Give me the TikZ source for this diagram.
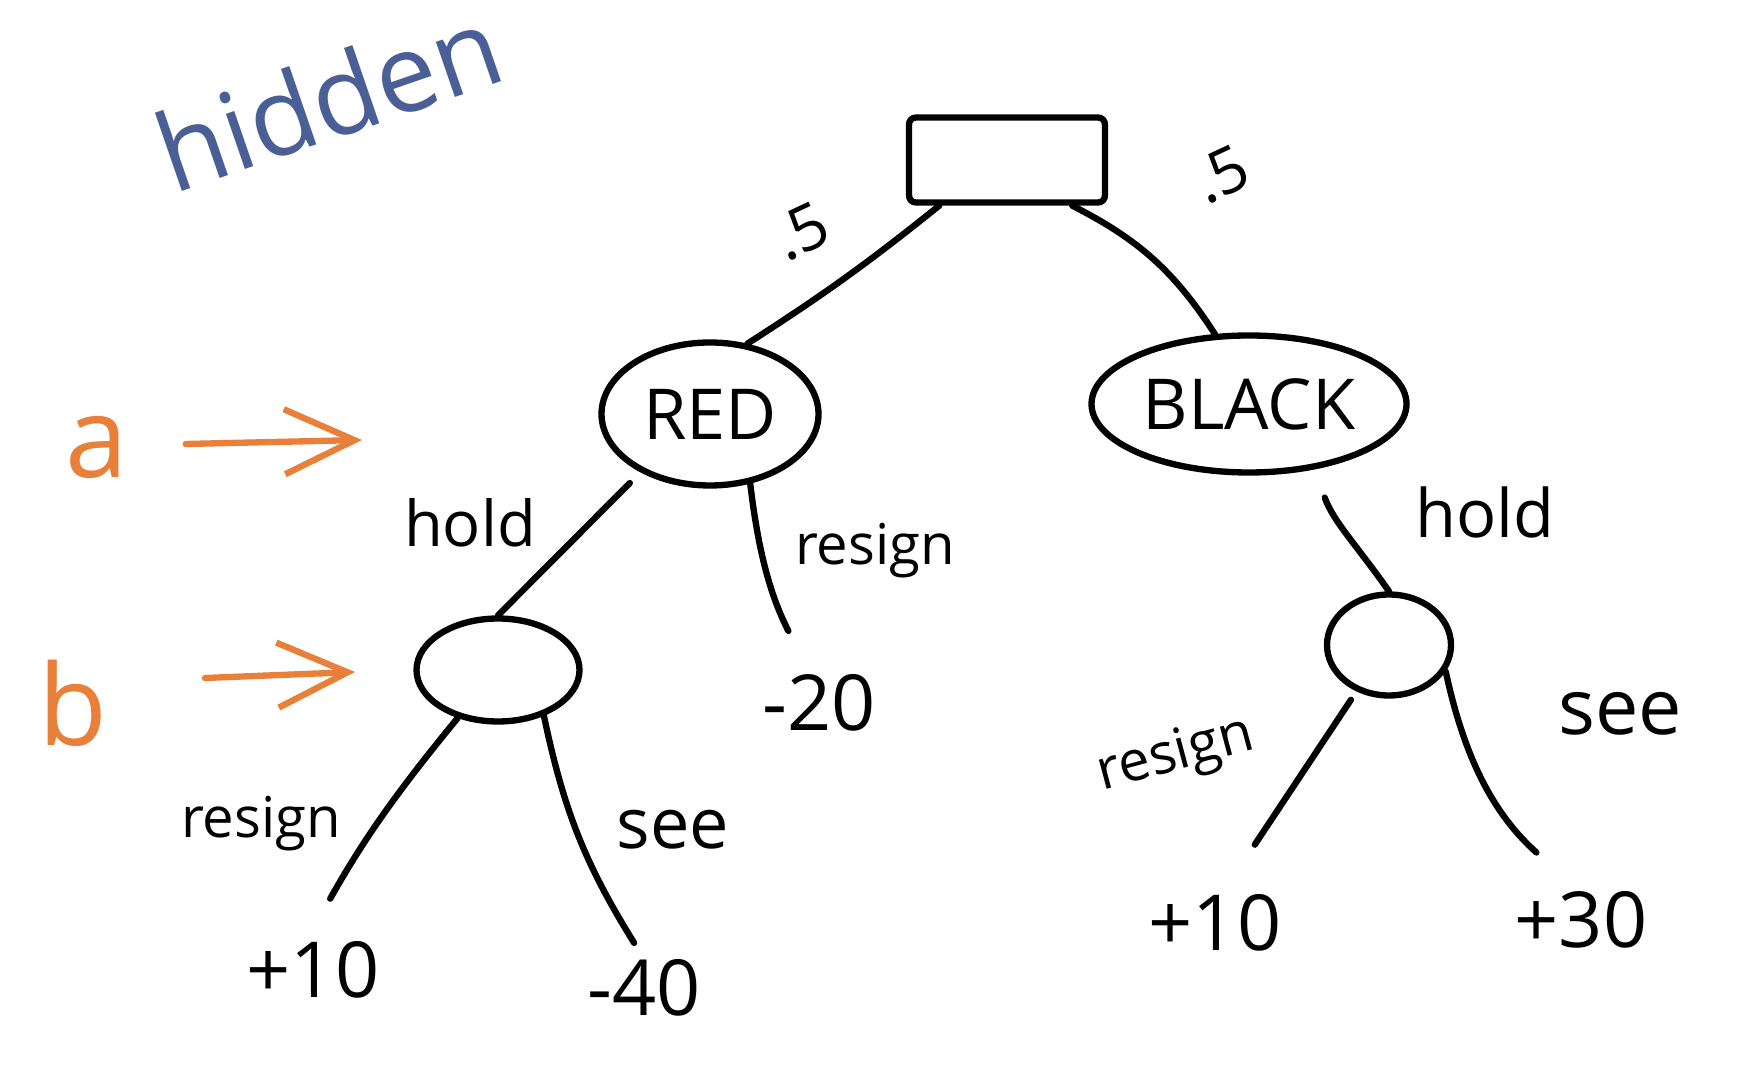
\documentclass[tikz,border=0pt]{standalone}
\usepackage{fontspec}
\setmainfont{Open Sans}
\usepackage{tikz}
\usetikzlibrary{arrows.meta, shapes.geometric}
\definecolor{Tangerine}{HTML}{E8803A}
\definecolor{InkBlue}{HTML}{4A5F95}

\begin{document}
\begin{tikzpicture}[
    pen/.style={line width=1.8pt, line cap=round, black},
    chance/.style={draw, line width=1.8pt, rectangle, rounded corners=2pt, minimum width=1.96cm, minimum height=0.85cm},
    state/.style={draw, line width=1.8pt, ellipse, inner sep=0pt, font=\fontsize{20}{20}\selectfont},
    act/.style={font=\fontsize{16}{16}\selectfont},
    val/.style={font=\fontsize{22}{22}\selectfont},
    tag/.style={text=Tangerine, font=\fontsize{32}{32}\selectfont},
    pointer/.style={Tangerine, line width=1.8pt, line cap=round, -{Straight Barb[length=0.7cm, width=0.65cm, line width=1.8pt]}}
]
    \useasboundingbox (0,0) rectangle (17.64,10.68);

    \node[InkBlue, rotate=19, font=\fontsize{31}{31}\selectfont] (hidden) at (3.28,9.70) {hidden};

    \node (root) at (10.07,9.08)[chance] {};
    \node (red) at (7.10,6.54)[state, minimum width=2.17cm, minimum height=1.43cm] {RED};
    \node (black) at (12.49,6.64)[state, minimum width=3.15cm, minimum height=1.37cm] {BLACK};
    \node (hb) at (4.98,3.98)[state, minimum width=1.63cm, minimum height=1.03cm] {};
    \node (hk) at (13.89,4.23)[state, minimum width=1.24cm, minimum height=1.01cm] {};

    \node (m20) at (8.19,3.65)[val] {-20};
    \node (leafA) at (3.13,0.98)[val] {+10};
    \node (leafB) at (6.44,0.80)[val] {-40};
    \node (leafC) at (12.15,1.45)[val] {+10};
    \node (leafD) at (15.81,1.48)[val] {+30};

    \node (pl) at (8.01,8.37)[val, rotate=25, font=\fontsize{18}{18}\selectfont] {.5};
    \node (pr) at (12.21,8.94)[val, rotate=25, font=\fontsize{18}{18}\selectfont] {.5};

    \draw[pen] (root.-146) to[bend left=3] (red.62);
    \draw[pen] (root.-35) to[bend left=15] (black.116);

    \draw[pen, shorten <=0.15cm] (red.220) -- (hb.north);
    \draw[pen, shorten >=0.35cm] (red.-60) to[bend right=10] (m20.110);
    \node (holdR) at (4.70,5.45)[act, font=\fontsize{18}{18}\selectfont] {hold};
    \node (resR) at (8.75,5.17)[act] {resign};

    \draw[pen, shorten >=0.35cm] (hb.-130) to[bend right=5] (leafA.north);
    \draw[pen, shorten >=0.05cm] (hb.-45) to[bend right=10] (leafB.100);
    \node (resA) at (2.61,2.44)[act] {resign};
    \node (seeA) at (6.73,2.38)[act, font=\fontsize{20}{20}\selectfont] {see};

    \draw[pen, shorten <=0.3cm] (black.-45) to[out=-70, in=125] (hk.north);
    \node (holdK) at (14.85,5.56)[act, font=\fontsize{19}{19}\selectfont] {hold};

    \draw[pen, shorten >=0.45cm, shorten <=0.1cm] (hk.-125) -- (leafC.70);
    \draw[pen, shorten >=0.4cm] (hk.-25) to[bend right=18] (leafD.110);
    \node (resK) at (11.76,3.12)[act, rotate=15] {resign};
    \node (seeK) at (16.20,3.54)[act, font=\fontsize{22}{22}\selectfont] {see};

    \node (a) at (0.97,6.21)[tag] {a};
    \coordinate (aTip) at (3.62,6.28);
    \draw[pointer] (a.east) ++(0.45,0.03) -- (aTip);

    \node (b) at (0.73,3.65)[tag] {b};
    \coordinate (bTip) at (3.55,3.96);
    \draw[pointer] (b.east) ++(0.85,0.25) -- (bTip);
\end{tikzpicture}
\end{document}
